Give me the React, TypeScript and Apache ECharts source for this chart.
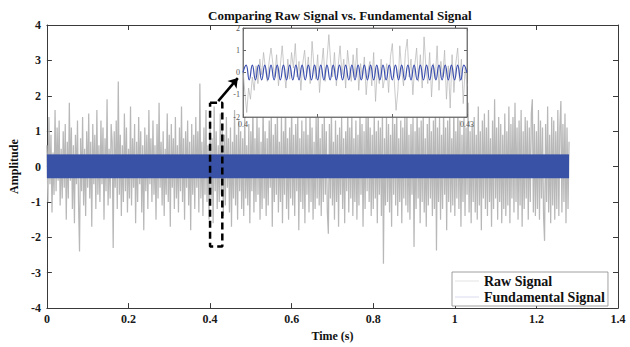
import React, { useEffect, useRef } from "react";
import * as echarts from "echarts";

const FONT = "'Liberation Serif', 'Times New Roman', serif";

const titleText = "Comparing Raw Signal vs. Fundamental Signal";
const xName = "Time (s)";
const yName = "Amplitude";
const rawName = "Raw Signal";
const fundName = "Fundamental Signal";

// main axes
const xMin = 0, xMax = 1.4, xStep = 0.2;
const yMin = -4, yMax = 4, yStep = 1;

const rawDt = 0.0025;
const rawSignal = [
  0.6, -1.0, 1.4, -0.5, 0.9, -1.3, 0.4, -0.8, 1.6, -0.7, 1.1, -0.4, 1.3, -1.1, 0.5, -0.9,
  1.0, -0.6, 1.2, -1.5, 0.7, -0.9, 1.8, -0.4, 1.1, -1.2, 0.6, -1.6, 0.9, -0.5, 1.3, -1.0,
  -2.4, 0.8, -0.7, 1.4, -1.1, 0.5, -1.4, 1.0, -0.6, 1.5, -0.9, 0.7, -1.7, 1.2, -0.5, 0.9,
  -1.2, 1.6, -0.8, 0.6, -1.0, 1.3, -0.5, 1.1, -1.5, 0.8, -0.7, 1.9, -1.1, 0.5, -0.9, 1.2,
  0.7, -2.3, 1.0, -0.6, 1.3, -1.2, 2.4, -0.8, 0.9, -1.4, 0.6, -1.0, 1.5, -0.7, 1.1, -1.3,
  0.5, -0.9, 1.7, -1.1, 0.8, -0.6, 1.2, -1.6, 0.7, -1.0, 1.4, -0.5, 1.0, -1.3, 0.6, -1.8,
  1.1, -0.7, 0.9, -1.2, 1.6, -0.5, 0.8, -1.0, 1.3, -0.8, 0.6, -1.5, 1.2, -0.9, 1.8, -0.6,
  0.7, -1.1, 1.0, -1.4, 0.5, -0.8, 1.5, -1.0, 0.9, -1.7, 1.2, -0.6, 0.8, -1.2, 1.4, -0.9,
  0.6, -1.3, 1.1, -0.7, 1.7, -1.0, 0.8, -1.5, 1.0, -0.6, 1.3, -1.1, 0.7, -1.8, 1.2, -0.8,
  0.9, -1.2, 1.4, -0.6, 1.0, -1.3, 2.35, -0.9, 0.7, -1.4, 1.1, -0.8, 1.6, -1.0, 0.6, -1.5,
  1.3, -0.9, 0.8, -1.6, 1.7, -0.7, 1.0, -1.2, 0.6, -1.0, 1.5, -0.8, 1.2, -1.4, 0.9, -1.1,
  1.4, -0.6, 0.8, -1.3, 1.1, -1.7, 0.7, -0.9, 1.6, -1.1, 0.9, -1.5, 1.3, -0.7, 1.0, -1.2,
  0.8, -1.4, 1.5, -0.9, 0.6, -1.1, 1.2, -1.6, 1.0, -0.7, 1.7, -1.3, 0.8, -1.0, 1.4, -0.8,
  1.1, -1.5, 0.7, -1.2, 1.8, -0.9, 1.0, -1.4, 0.8, -1.1, 1.3, -0.6, 1.5, -1.7, 0.9, -1.0,
  1.2, -0.8, 1.6, -1.3, 0.7, -1.0, 1.4, -1.6, 1.0, -0.8, 1.9, -1.2, 0.8, -1.5, 1.1, -0.9,
  1.7, -1.1, 0.9, -1.4, 1.2, -0.7, 1.5, -1.8, 0.8, -1.0, 1.3, -1.2, 1.0, -1.6, 1.4, -0.8,
  0.9, -1.3, 1.6, -1.0, 1.1, -1.5, 0.7, -1.2, 1.4, -0.9, 1.8, -1.1, 0.8, -1.4, 1.2, -1.0,
  1.5, -0.8, 1.0, -1.3, -1.9, 1.2, -0.9, 1.6, -1.1, 0.7, -1.5, 1.3, -1.0, 0.9, -1.7, 1.1,
  -0.8, 1.4, -1.2, 0.8, -1.6, 1.0, -0.7, 1.7, -1.3, 1.1, -0.9, 1.5, -1.4, 0.8, -1.0, 1.3,
  -1.5, 0.9, -1.1, 1.6, -0.8, 1.2, -1.7, 1.0, -1.2, 1.4, -0.7, 1.8, -1.0, 1.1, -1.4, 0.9,
  -1.2, 1.5, -0.9, 1.0, -1.6, 1.3, -0.8, 1.1, -1.4, 1.6, -2.75, 0.8, -1.1, 1.4, -1.0, 1.2,
  -1.3, 0.9, -1.7, 1.5, -0.8, 1.2, -1.1, 1.7, -1.4, 0.8, -1.0, 1.3, -1.6, 1.1, -0.9, 1.4,
  -1.1, 1.6, -1.3, 0.9, -1.5, 1.2, -0.8, 1.4, -2.27, 1.0, -1.2, 1.7, -0.9, 1.1, -1.6, 1.3,
  -1.0, 1.5, -1.3, 0.8, -1.7, 1.2, -1.1, 1.6, -0.9, 1.0, -1.4, 1.3, -1.2, 1.8, -2.37, 1.1,
  -1.0, 1.4, -1.5, 0.9, -1.2, 1.6, -0.8, 1.1, -1.8, 1.3, -1.0, 1.5, -1.3, 0.8, -1.1, 1.7,
  -1.4, 1.0, -0.9, 1.6, -1.2, 1.3, -1.7, 0.9, -1.0, 1.5, -1.4, 1.1, -0.8, 1.8, -1.3, 1.0,
  -1.6, 1.2, -1.0, 1.4, -1.3, 0.9, -1.5, 1.7, -1.1, 1.0, -1.8, 1.3, -0.9, 1.5, -1.2, 1.1,
  -1.4, 1.6, -1.0, 0.8, -1.7, 1.3, -1.2, 1.9, -0.9, 1.1, -1.5, 1.4, -1.0, 1.2, -1.6, 0.9,
  -1.2, 1.5, -1.4, 1.0, -1.1, 1.7, -1.6, 1.2, -0.9, 1.4, -1.3, 1.8, -1.0, 1.1, -1.5, 1.3,
  -1.1, 1.6, -1.7, 1.0, -1.2, 1.4, -0.9, 1.3, -1.5, 1.1, -1.0, 1.5, 1.9, -1.3, 1.2, -1.4,
  1.0, -1.2, 1.6, -1.5, 1.3, -0.9, 1.1, -1.4, -2.1, 1.2, -1.0, 1.7, -1.3, 0.9, -1.6, 1.4,
  -1.1, 1.3, -1.5, 1.0, -1.2, 1.6, -1.4, 1.1, 1.85, -1.3, 1.2, -1.0, 1.5, -1.6, 1.1, -1.2,
  0.7,
];

// fundamental signal in the main view: a dense sinusoid that reads as a band
const fundTimes = [0, 1.28];
const fundUpper = [0.33, 0.33];
const fundLower = [-0.33, -0.33];

// inset window
const insetXMin = 0.4, insetXMax = 0.43, insetXStep = 0.01;
const insetYMin = -2, insetYMax = 2, insetYStep = 1;

const insetRawDt = 0.00025;
const insetRaw = [
  0.1, -0.9, -1.8, -0.7, -1.2, -0.2, -0.8, 0.3, -0.5, 0.6, -0.1, 0.9, 0.2, -0.4, 0.5, 1.1, 0.4, -0.2, 0.8, -0.6,
  0.3, 1.2, 0.1, -0.7, 0.6, -0.3, 0.9, 0.2, 1.3, -0.2, 0.5, -0.8, 0.4, 1.0, -0.1, 0.7, -0.5, 1.4, 0.3, -0.3,
  0.8, -0.9, 0.2, 1.1, -0.4, 0.6, 1.7, 0.4, -0.2, 0.9, -0.6, 0.3, 1.2, -0.1, 0.6, -0.7, 1.0, 0.2, -0.4, 0.8,
  -0.2, 1.1, -0.8, 0.4, -0.3, 0.7, -1.0, 0.1, 0.5, -0.6, 0.9, -1.3, 0.2, -0.5, 0.6, -0.7, -0.2, 0.4, -0.9, 0.7,
  1.3, -0.3, -1.7, -0.8, 1.2, 0.1, -0.6, 0.9, 1.5, -0.2, 0.6, -1.0, 0.3, 1.1, -0.4, 0.8, -0.7, 1.6, 0.2, -0.5,
  0.9, -1.1, 0.4, -0.3, 1.2, -0.8, 0.5, -0.2, 1.0, -1.2, 0.3, -1.6, 0.8, -0.9, 0.4, 1.1, -0.4, 0.6, -1.4, 0.2,
  -0.6,
];

// fundamental peaks/troughs in the inset, one every half period
const insetFundDt = 0.03 / 72;
const insetFund = [
  0.0, 0.33, -0.33, 0.33, -0.33, 0.33, -0.33, 0.33, -0.33, 0.33, -0.33, 0.33, -0.33, 0.33, -0.33, 0.33,
  -0.33, 0.33, -0.33, 0.33, -0.33, 0.33, -0.33, 0.33, -0.33, 0.33, -0.33, 0.33, -0.33, 0.33, -0.33, 0.33,
  -0.33, 0.33, -0.33, 0.33, -0.33, 0.33, -0.33, 0.33, -0.33, 0.33, -0.33, 0.33, -0.33, 0.33, -0.33, 0.33,
  -0.33, 0.33, -0.33, 0.33, -0.33, 0.33, -0.33, 0.33, -0.33, 0.33, -0.33, 0.33, -0.33, 0.33, -0.33, 0.33,
  -0.33, 0.33, -0.33, 0.33, -0.33, 0.33, -0.33, 0.33, 0.0,
];

// zoom annotation (data coordinates of main axes)
const zoomBoxX = [0.4, 0.43];
const zoomBoxY = [1.8, -2.26];
const arrowFrom = [0.42, 1.85];
const arrowTo = [0.468, 2.5];

const GRAY = "#b8b8b8";
const BLUE = "#3a52a6";
const AXIS = "#3a3a3a";

export default function App() {
  const ref = useRef<HTMLDivElement>(null);

  useEffect(() => {
    if (!ref.current) return;
    const chart = echarts.init(ref.current, undefined, { renderer: "svg" });

    const tickLabel = { fontFamily: FONT, fontWeight: "bold", fontSize: 12, color: "#1a1a1a" };
    const mainAxisCommon = {
      axisLine: { show: true, onZero: false, lineStyle: { color: AXIS, width: 1 } },
      axisTick: { show: true, inside: true, length: 5, lineStyle: { color: AXIS } },
      splitLine: { show: false },
    };
    const insetAxisCommon = {
      axisLine: { show: true, onZero: false, lineStyle: { color: "#666", width: 0.8 } },
      axisTick: { show: true, inside: true, length: 3, lineStyle: { color: "#666" } },
      splitLine: { show: false },
      z: 11,
    };
    const insetLabel = { fontFamily: FONT, fontSize: 8, color: "#555" };

    const box = [
      [zoomBoxX[0], zoomBoxY[0]],
      [zoomBoxX[1], zoomBoxY[0]],
      [zoomBoxX[1], zoomBoxY[1]],
      [zoomBoxX[0], zoomBoxY[1]],
      [zoomBoxX[0], zoomBoxY[0]],
    ];

    chart.setOption({
      animation: false,
      backgroundColor: "#fff",
      title: {
        text: titleText,
        left: 203,
        top: 4,
        textStyle: { fontFamily: FONT, fontWeight: "bold", fontSize: 13, color: "#111" },
      },
      legend: {
        left: 452,
        top: 272,
        orient: "vertical",
        itemWidth: 24,
        itemHeight: 1,
        itemGap: 2,
        padding: [2, 3, 2, 3],
        borderColor: "#888",
        borderWidth: 0.8,
        backgroundColor: "#fff",
        selectedMode: false,
        textStyle: { fontFamily: FONT, fontWeight: "bold", fontSize: 14, color: "#111" },
        data: [
          { name: rawName, icon: "rect", itemStyle: { color: "#e2e2e2" } },
          { name: fundName, icon: "rect", itemStyle: { color: "#dadaee" } },
        ],
      },
      grid: [
        { left: 43, top: 25, right: 12, bottom: 33, show: false },
        {
          left: 243, top: 28, width: 224, height: 89, show: true,
          backgroundColor: "#fff", borderColor: "#666", borderWidth: 0.8, z: 10,
        },
      ],
      xAxis: [
        {
          type: "value", gridIndex: 0, min: xMin, max: xMax, interval: xStep, position: "bottom",
          name: xName, nameLocation: "middle", nameGap: 20,
          nameTextStyle: { fontFamily: FONT, fontWeight: "bold", fontSize: 12, color: "#111" },
          axisLabel: { ...tickLabel, margin: 5 },
          ...mainAxisCommon,
        },
        {
          type: "value", gridIndex: 0, min: xMin, max: xMax, interval: xStep, position: "top",
          axisLabel: { show: false }, ...mainAxisCommon,
        },
        {
          type: "value", gridIndex: 1, min: insetXMin, max: insetXMax, interval: insetXStep, position: "bottom",
          axisLabel: {
            ...insetLabel, margin: 3, showMinLabel: true, showMaxLabel: true,
            formatter: (v: number) =>
              Math.abs(v - insetXMin) < 1e-6 ? String(insetXMin) : Math.abs(v - insetXMax) < 1e-6 ? String(insetXMax) : "",
          },
          ...insetAxisCommon,
        },
        {
          type: "value", gridIndex: 1, min: insetXMin, max: insetXMax, interval: insetXStep, position: "top",
          axisLabel: { show: false }, ...insetAxisCommon,
        },
      ],
      yAxis: [
        {
          type: "value", gridIndex: 0, min: yMin, max: yMax, interval: yStep, position: "left",
          name: yName, nameLocation: "middle", nameGap: 16,
          nameTextStyle: { fontFamily: FONT, fontWeight: "bold", fontSize: 12, color: "#111" },
          axisLabel: { ...tickLabel, margin: 6 },
          ...mainAxisCommon,
        },
        {
          type: "value", gridIndex: 0, min: yMin, max: yMax, interval: yStep, position: "right",
          axisLabel: { show: false }, ...mainAxisCommon,
        },
        {
          type: "value", gridIndex: 1, min: insetYMin, max: insetYMax, interval: insetYStep, position: "left",
          axisLabel: { ...insetLabel, margin: 3 },
          ...insetAxisCommon,
        },
        {
          type: "value", gridIndex: 1, min: insetYMin, max: insetYMax, interval: insetYStep, position: "right",
          axisLabel: { show: false }, ...insetAxisCommon,
        },
      ],
      series: [
        {
          name: rawName, type: "line", xAxisIndex: 0, yAxisIndex: 0,
          data: rawSignal.map((v, i) => [i * rawDt, v]),
          showSymbol: false, symbol: "none", silent: true, z: 2,
          lineStyle: { color: GRAY, width: 1.25 },
        },
        {
          name: fundName, type: "line", xAxisIndex: 0, yAxisIndex: 0,
          data: fundTimes.map((t, i) => [t, fundUpper[i]]),
          showSymbol: false, symbol: "none", silent: true, z: 4,
          lineStyle: { color: BLUE, width: 0.8 },
          markArea: {
            silent: true,
            z: 4,
            label: { show: false },
            itemStyle: { color: BLUE, opacity: 1 },
            data: [[
              { coord: [fundTimes[0], fundLower[0]] },
              { coord: [fundTimes[fundTimes.length - 1], fundUpper[fundUpper.length - 1]] },
            ]],
          },
        },
        {
          name: "zoomBox", type: "line", xAxisIndex: 0, yAxisIndex: 0,
          data: box, showSymbol: false, symbol: "none", silent: true, z: 5, clip: false,
          lineStyle: { color: "#000", width: 2.5, type: [7, 4] },
          markLine: {
            silent: true,
            z: 5,
            symbol: ["none", "arrow"],
            symbolSize: 9,
            label: { show: false },
            lineStyle: { color: "#000", width: 2.5, type: "solid" },
            data: [[{ coord: arrowFrom }, { coord: arrowTo }]],
          },
        },
        {
          name: rawName, type: "line", xAxisIndex: 2, yAxisIndex: 2,
          data: insetRaw.map((v, i) => [insetXMin + i * insetRawDt, v]),
          showSymbol: false, symbol: "none", silent: true, z: 12,
          lineStyle: { color: "#b3b3b3", width: 0.7 },
        },
        {
          name: fundName, type: "line", xAxisIndex: 2, yAxisIndex: 2, smooth: 0.5,
          data: insetFund.map((v, i) => [insetXMin + i * insetFundDt, v]),
          showSymbol: false, symbol: "none", silent: true, z: 13,
          lineStyle: { color: "#3b4fb0", width: 1.2 },
        },
      ],
    });

    return () => chart.dispose();
  }, []);

  return (
    <div
      ref={ref}
      style={{ position: "absolute", left: 0, top: 0, width: 630, height: 347, background: "#fff" }}
    />
  );
}
